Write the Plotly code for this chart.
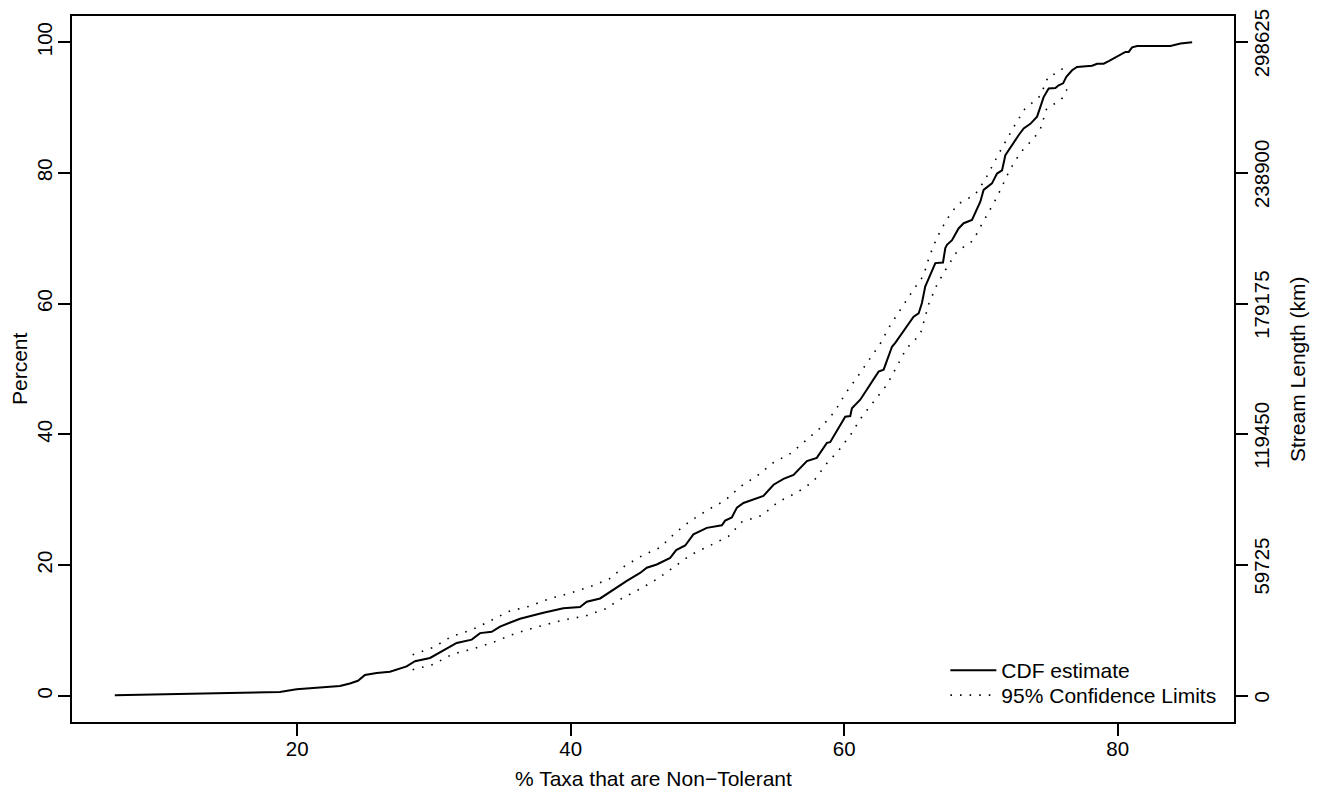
import plotly.graph_objects as go

# CDF estimate (x = % taxa non-tolerant, y = percent)
cdf_x = [6.66, 9.95, 12.0, 15.0, 18.73, 19.95, 21.9, 23.12, 23.85, 24.44, 24.95, 25.81, 26.78,
         28.0, 28.61, 29.71, 31.66, 32.76, 33.37, 34.22, 34.83, 36.29, 38.0, 39.46, 40.68,
         41.17, 42.15, 43.12, 44.1, 45.07, 45.56, 46.29, 47.27, 47.71, 48.37, 48.97, 49.95,
         51.05, 51.29, 51.78, 52.15, 52.63, 54.09, 54.83, 55.56, 56.29, 56.78, 57.27, 57.99,
         58.73, 58.97, 59.83, 60.07, 60.44, 60.56, 61.17, 61.78, 62.14, 62.51, 62.88, 63.24,
         63.49, 63.73, 64.46, 65.07, 65.44, 65.68, 65.92, 66.66, 67.22, 67.39, 67.51, 67.88,
         68.36, 68.73, 69.34, 69.71, 69.95, 70.19, 70.8, 71.17, 71.54, 71.78, 72.02, 72.39,
         72.76, 73.12, 73.61, 74.1, 74.34, 74.58, 74.95, 75.44, 75.68, 76.0, 76.24, 76.66,
         77.02, 77.63, 78.12, 78.49, 78.97, 79.34, 79.7, 80.07, 80.56, 80.8, 81.05, 81.42,
         83.85, 84.59, 85.44]
cdf_y = [0.1, 0.2, 0.35, 0.45, 0.6, 1.0, 1.3, 1.5, 1.9, 2.3, 3.2, 3.5, 3.7,
         4.5, 5.3, 5.8, 8.1, 8.6, 9.6, 9.8, 10.6, 11.8, 12.7, 13.4, 13.6,
         14.4, 14.9, 16.3, 17.6, 18.8, 19.6, 20.1, 21.1, 22.3, 23.0, 24.7, 25.7,
         26.1, 26.8, 27.3, 28.8, 29.5, 30.6, 32.3, 33.2, 33.8, 34.9, 35.9, 36.4,
         38.7, 38.8, 41.7, 42.7, 42.8, 44.0, 45.3, 47.3, 48.4, 49.6, 49.9, 51.9,
         53.4, 54.0, 56.2, 58.0, 58.5, 60.1, 62.6, 66.2, 66.3, 68.5, 69.0, 69.7,
         71.5, 72.3, 72.8, 74.6, 75.6, 77.4, 78.4, 79.9, 80.4, 82.7, 83.5, 84.7,
         85.8, 86.8, 87.5, 88.6, 90.1, 91.6, 92.9, 93.0, 93.4, 93.7, 94.7, 95.7,
         96.2, 96.3, 96.4, 96.7, 96.7, 97.1, 97.5, 98.0, 98.5, 98.5, 99.2, 99.4,
         99.4, 99.8, 100.0]

# 95% confidence limits
upper_x = [28.44, 29.95, 31.29, 32.76, 34.05, 35.44, 36.97, 38.49, 39.95, 41.41, 42.83, 43.97,
           45.27, 46.54, 47.68, 48.78, 50.07, 51.29, 52.39, 53.66, 54.83, 56.1, 57.27, 58.37,
           59.34, 60.07, 60.93, 61.78, 62.64, 63.31, 64.1, 64.95, 65.8, 66.22, 66.78, 67.44,
           68.29, 69.58, 70.31, 71.34, 72.39, 73.17, 74.34, 74.93, 75.61, 76.17]
upper_y = [6.3, 7.4, 9.1, 10.1, 11.4, 12.9, 13.7, 14.9, 15.7, 16.7, 17.9, 19.9,
           21.5, 22.7, 25.0, 26.8, 28.5, 29.9, 32.0, 33.7, 35.7, 37.1, 39.2, 41.2,
           43.6, 46.2, 48.7, 51.3, 53.9, 56.5, 59.1, 61.8, 64.3, 67.2, 70.1, 72.7,
           75.2, 76.7, 79.0, 83.1, 87.0, 89.7, 91.8, 94.8, 95.3, 96.3]
lower_x = [28.44, 29.95, 31.37, 32.88, 34.34, 35.76, 37.27, 39.46, 41.05, 42.51, 43.81, 45.12,
           46.41, 47.63, 48.8, 50.19, 51.53, 52.51, 53.98, 55.19, 56.54, 57.75, 58.66, 59.65,
           60.51, 61.29, 62.22, 63.12, 63.8, 64.53, 65.56, 66.17, 66.78, 67.44, 68.25, 69.46,
           69.78, 71.17, 72.09, 72.88, 73.9, 74.34, 74.78, 75.93, 76.29]
lower_y = [4.0, 4.8, 6.4, 7.2, 8.2, 9.4, 10.4, 11.6, 12.2, 13.3, 15.0, 16.4,
           18.0, 19.8, 21.6, 23.0, 24.4, 26.6, 27.6, 29.7, 31.1, 32.8, 35.4, 37.7,
           40.1, 42.7, 45.2, 47.6, 50.2, 53.1, 55.3, 59.9, 62.9, 65.3, 68.0, 69.7,
           71.1, 76.3, 80.4, 83.1, 85.4, 86.7, 89.7, 91.4, 92.8]

x_ticks = [20, 40, 60, 80]
pct_ticks = [0, 20, 40, 60, 80, 100]
km_ticks = [0, 59725, 119450, 179175, 238900, 298625]
total_km = 298625

FONT = "Liberation Sans, Arial, sans-serif"
dot = "1.6px,8px"

fig = go.Figure()
fig.add_trace(go.Scatter(x=cdf_x, y=cdf_y, mode="lines", name="CDF estimate",
                         line=dict(color="black", width=2), legend="legend"))
fig.add_trace(go.Scatter(x=upper_x, y=upper_y, mode="lines", name="95% Confidence Limits",
                         line=dict(color="black", width=1.6, dash=dot), legend="legend2"))
fig.add_trace(go.Scatter(x=lower_x, y=lower_y, mode="lines", showlegend=False,
                         line=dict(color="black", width=1.6, dash=dot)))
# invisible trace so the right-hand axis is drawn
fig.add_trace(go.Scatter(x=[cdf_x[0]], y=[0], yaxis="y2", mode="markers",
                         marker=dict(opacity=0), showlegend=False, hoverinfo="skip"))

axis_common = dict(showline=True, linecolor="black", linewidth=2, ticks="outside",
                   ticklen=12, tickwidth=2, tickcolor="black", showgrid=False,
                   zeroline=False, automargin=False, ticklabeloverflow="allow",
                   tickfont=dict(size=20.5, color="black"))

legend_common = dict(xanchor="left", yanchor="bottom", itemwidth=46,
                     bgcolor="rgba(0,0,0,0)", font=dict(size=21))

# the page body has an 8px margin, so the margins below are offset by 8px
fig.update_layout(
    template="none",
    width=1320, height=792,
    margin=dict(l=64, r=94, t=7.5, b=78),
    paper_bgcolor="white", plot_bgcolor="white",
    font=dict(family=FONT, size=21, color="black"),
    xaxis=dict(range=[3.53, 88.5], tickvals=x_ticks, mirror=True,
               ticklabelstandoff=-5, **axis_common),
    yaxis=dict(range=[-4, 104], tickvals=pct_ticks, tickangle=-90, mirror=True,
               ticklabelstandoff=-2, **axis_common),
    yaxis2=dict(range=[-0.04 * total_km, 1.04 * total_km], tickvals=km_ticks,
                ticktext=[str(v) for v in km_ticks], overlaying="y", side="right",
                tickangle=-90, ticklabelstandoff=-4, ticklabelshift=4, **axis_common),
    legend=dict(x=0.7516, y=0.0438, **legend_common),
    legend2=dict(x=0.7516, y=0.0085, **legend_common),
    showlegend=True,
    annotations=[
        dict(text="% Taxa that are Non\u2212Tolerant", xref="paper", yref="paper",
             x=0.5, y=0, yshift=-56, showarrow=False, xanchor="center", yanchor="middle"),
        dict(text="Percent", xref="paper", yref="paper", x=0, y=0.5, xshift=-53,
             textangle=-90, showarrow=False, xanchor="center", yanchor="middle"),
        dict(text="Stream Length (km)", xref="paper", yref="paper", x=1, y=0.5,
             xshift=63, textangle=-90, showarrow=False, xanchor="center", yanchor="middle"),
    ],
)

fig.write_html("out.html")
